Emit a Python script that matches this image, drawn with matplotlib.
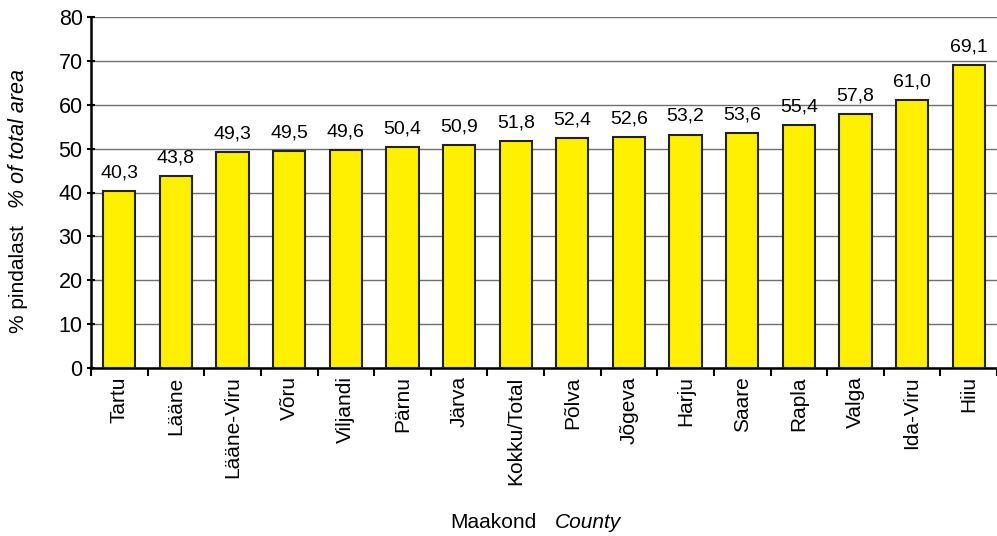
import matplotlib
matplotlib.use('Agg')
from matplotlib import pyplot as plt
import numpy as np

plt.rcParams['font.family'] = ['Liberation Sans', 'DejaVu Sans']

# county names and forest share (% of total area)
counties = ['Tartu', 'Lääne', 'Lääne-Viru', 'Võru', 'Viljandi', 'Pärnu', 'Järva',
            'Kokku/Total', 'Põlva', 'Jõgeva', 'Harju', 'Saare', 'Rapla', 'Valga',
            'Ida-Viru', 'Hiiu']
values = [40.3, 43.8, 49.3, 49.5, 49.6, 50.4, 50.9, 51.8, 52.4, 52.6, 53.2,
          53.6, 55.4, 57.8, 61.0, 69.1]
yticks = [0, 10, 20, 30, 40, 50, 60, 70, 80]

fig = plt.figure(figsize=(9.97, 5.36), dpi=100)
ax = fig.add_axes([91 / 997, 168 / 536, 906 / 997, 351 / 536])

x = np.arange(len(counties))
ax.bar(x, values, width=0.57, color='#FFF000', edgecolor='#222222', linewidth=1.5, zorder=3)

for xi, v in zip(x, values):
    ax.text(xi, v + 2.2, f'{v:.1f}'.replace('.', ','), ha='center', va='bottom', fontsize=14)

ax.set_xlim(-0.5, len(counties) - 0.5)
ax.set_ylim(0, 80)
ax.set_yticks(yticks)
ax.set_yticklabels([str(t) for t in yticks], fontsize=15.5)
ax.yaxis.grid(True, color='#707070', linewidth=1, zorder=0)

# ticks sit between the bars
ax.set_xticks(np.arange(len(counties) + 1) - 0.5)
ax.set_xticklabels([])
ax.set_xticks(x, minor=True)
ax.set_xticklabels(counties, minor=True, rotation=90, fontsize=15)
ax.tick_params(axis='x', which='minor', length=0, pad=6)
ax.tick_params(axis='x', which='major', length=6, width=1.5, direction='out')
ax.tick_params(axis='y', length=6, width=1.5, direction='inout', pad=3)

for s in ['top', 'right']:
    ax.spines[s].set_visible(False)
ax.spines['left'].set_linewidth(1.8)
ax.spines['bottom'].set_linewidth(1.8)

fig.text(18 / 997, 1 - 279 / 536, '% pindalast', rotation=90, ha='center', va='center', fontsize=15)
fig.text(18 / 997, 1 - 138 / 536, '% of total area', rotation=90, ha='center', va='center',
         fontsize=15.5, style='italic')
fig.text(536 / 997, 1 - 523 / 536, 'Maakond', ha='right', va='center', fontsize=15)
fig.text(555 / 997, 1 - 523 / 536, 'County', ha='left', va='center', fontsize=15, style='italic')

fig.savefig('out.png', dpi=100)
